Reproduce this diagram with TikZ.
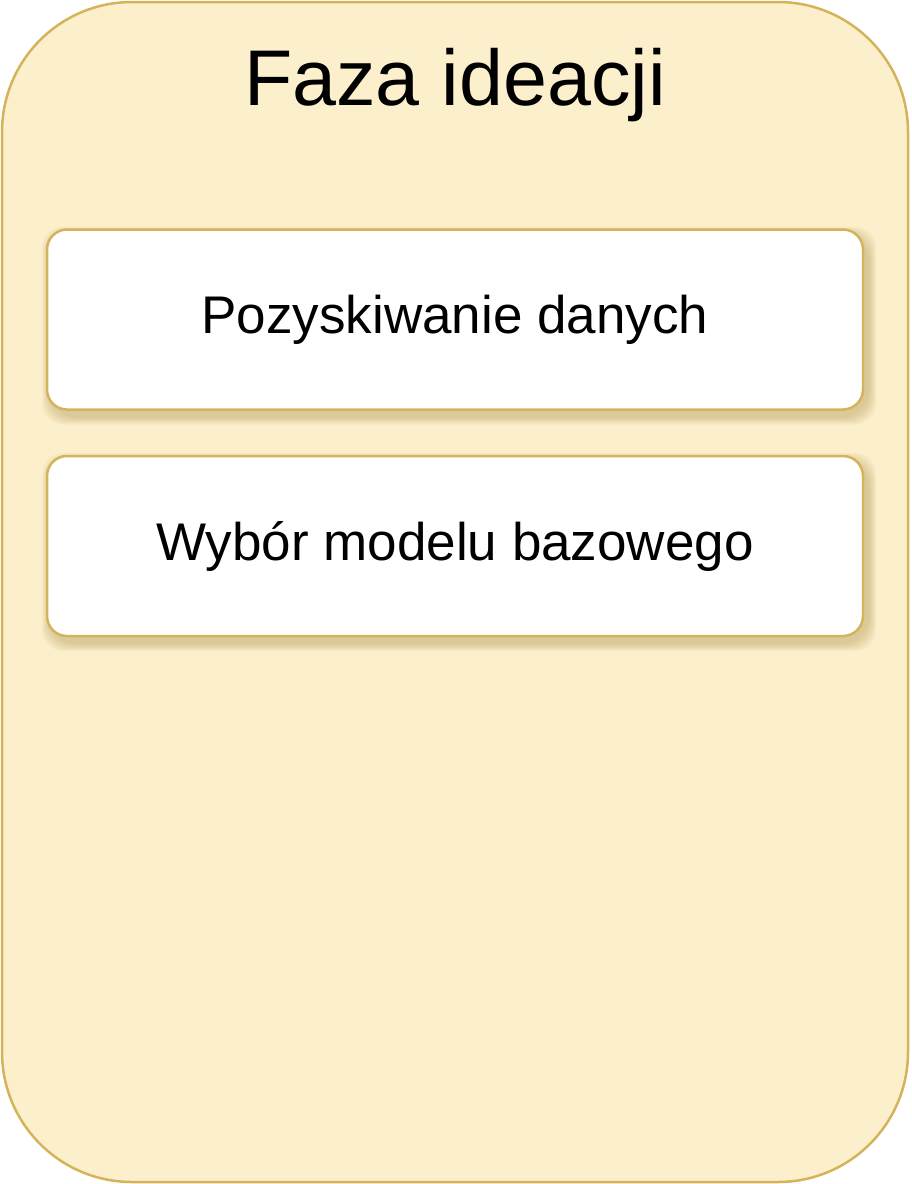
\documentclass[tikz,border=0pt]{standalone}
\usepackage{fontspec}
\setmainfont{Liberation Sans}
\definecolor{panelfill}{HTML}{FCEFCB}
\definecolor{panelline}{HTML}{D4B45A}
\definecolor{shadowcol}{HTML}{A88A40}
\tikzset{
  panel/.style={draw=panelline, line width=2.5pt, fill=panelfill, rounded corners=130pt},
  stepbox/.style={draw=panelline, line width=2.5pt, fill=white, rounded corners=20pt,
    minimum width=816pt, minimum height=180pt, inner sep=0pt,
    font=\fontsize{53}{60}\selectfont},
  softshadow/.style={fill=shadowcol, opacity=0.05, draw=none},
}
\begin{document}
\begin{tikzpicture}[x=1pt,y=1pt]
\useasboundingbox (0,0) rectangle (912,-1184);
\draw[panel] (2,-2) rectangle (908,-1182);
\node[font=\fontsize{79}{90}\selectfont] (title) at (455,-85) {Faza ideacji};
% soft shadows behind the step boxes
\foreach \cy in {-319.5,-546}{
  \foreach \e in {1,2,...,8}{
    \fill[softshadow, rounded corners={20pt+\e pt}]
      ({47+4-10+\e},{\cy+90-6-\e+10}) rectangle ({863+4+10-\e},{\cy-90-6+\e-10});
  }
}
\node[stepbox] (s1) at (455,-319.5) {Pozyskiwanie danych};
\node[stepbox] (s2) at (455,-546) {Wybór modelu bazowego};
\end{tikzpicture}
\end{document}
